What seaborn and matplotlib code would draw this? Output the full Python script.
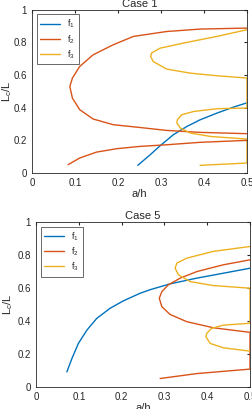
import numpy as np
import pandas as pd
import seaborn as sns
from matplotlib import pyplot as plt

# Case 1 curves (a/h, Lc/L)
c1_f1_x = [0.246, 0.275, 0.298, 0.329, 0.36, 0.391, 0.43, 0.469, 0.50]
c1_f1_y = [0.047, 0.112, 0.167, 0.235, 0.285, 0.326, 0.367, 0.404, 0.43]

c1_f2a_x = [0.50, 0.391, 0.313, 0.236, 0.189, 0.142, 0.111, 0.094, 0.088,
            0.094, 0.111, 0.142, 0.189, 0.251, 0.313, 0.391, 0.50]
c1_f2a_y = [0.888, 0.882, 0.867, 0.837, 0.786, 0.724, 0.653, 0.582, 0.53,
            0.459, 0.388, 0.331, 0.296, 0.279, 0.261, 0.249, 0.241]
c1_f2b_x = [0.084, 0.111, 0.150, 0.197, 0.251, 0.313, 0.391, 0.50]
c1_f2b_y = [0.051, 0.092, 0.128, 0.149, 0.163, 0.173, 0.188, 0.20]

c1_f3_x = [0.391, 0.50, 0.50, 0.415, 0.368, 0.345, 0.337, 0.338, 0.348, 0.376, 0.43, 0.50, 0.50,
           0.43, 0.368, 0.313, 0.282, 0.276, 0.278, 0.298, 0.352, 0.43, 0.50]
c1_f3_y = [0.047, 0.061, 0.208, 0.224, 0.245, 0.276, 0.306, 0.326, 0.357, 0.377, 0.394, 0.398, 0.582,
           0.596, 0.612, 0.637, 0.683, 0.714, 0.735, 0.765, 0.796, 0.837, 0.878]

# Case 5 curves
c5_f1_x = [0.072, 0.084, 0.099, 0.119, 0.142, 0.173, 0.204, 0.243, 0.267, 0.313, 0.376, 0.438, 0.50]
c5_f1_y = [0.091, 0.173, 0.264, 0.345, 0.416, 0.477, 0.522, 0.568, 0.59, 0.625, 0.66, 0.69, 0.72]

c5_f2_x = [0.29, 0.376, 0.50, 0.50, 0.414, 0.352, 0.313, 0.294, 0.288, 0.294, 0.309, 0.337, 0.376, 0.438, 0.50]
c5_f2_y = [0.051, 0.081, 0.108, 0.331, 0.359, 0.396, 0.44, 0.487, 0.538, 0.578, 0.619, 0.66, 0.70, 0.741, 0.771]

c5_f3_x = [0.50, 0.438, 0.407, 0.397, 0.399, 0.41, 0.438, 0.50, 0.50,
           0.414, 0.36, 0.333, 0.325, 0.329, 0.352, 0.414, 0.50]
c5_f3_y = [0.217, 0.237, 0.264, 0.304, 0.325, 0.355, 0.375, 0.386, 0.599,
           0.615, 0.639, 0.68, 0.72, 0.751, 0.781, 0.822, 0.852]

blue, red, yel = "#0072BD", "#D95319", "#EDB120"
xticks = [0, 0.1, 0.2, 0.3, 0.4, 0.5]
yticks = [0, 0.2, 0.4, 0.6, 0.8, 1]


def draw(ax, segs, title, ylab_x):
    for x, y, c, lab in segs:
        sns.lineplot(x=x, y=y, sort=False, estimator=None, color=c, lw=1.0, label=lab, ax=ax)
    ax.set_xlim(0, 0.5)
    ax.set_ylim(0, 1)
    ax.set_xticks(xticks)
    ax.set_xticklabels(["0", "0.1", "0.2", "0.3", "0.4", "0.5"])
    ax.set_yticks(yticks)
    ax.set_yticklabels(["0", "0.2", "0.4", "0.6", "0.8", "1"])
    ax.tick_params(direction="in", length=2.5, labelsize=7, colors="#262626", top=True, right=True)
    for s in ax.spines.values():
        s.set_visible(True)
        s.set_color("#262626")
        s.set_linewidth(0.6)
    ax.set_title(title, fontsize=8, pad=2)
    ax.set_xlabel("a/h", fontsize=8, labelpad=1)
    ax.set_ylabel("L$_c$/L", fontsize=8)
    ax.yaxis.set_label_coords(ylab_x, 0.5)
    leg = ax.legend(loc="upper left", fontsize=6.5, frameon=True, fancybox=False,
                    handlelength=2.2, borderpad=0.4, labelspacing=0.3)
    leg.get_frame().set_edgecolor("#262626")
    leg.get_frame().set_linewidth(0.6)


def main():
    sns.set_style("white")
    plt.rcParams["font.family"] = ["Liberation Sans", "DejaVu Sans"]
    plt.rcParams["mathtext.fontset"] = "custom"
    plt.rcParams["mathtext.rm"] = "Liberation Sans"
    plt.rcParams["mathtext.it"] = "Liberation Sans"

    fig = plt.figure(figsize=(2.52, 4.09), dpi=100)
    ax1 = fig.add_axes([0.127, 0.577, 0.853, 0.399])
    ax2 = fig.add_axes([0.143, 0.054, 0.849, 0.403])

    draw(ax1, [(c1_f1_x, c1_f1_y, blue, "f$_1$"),
               (c1_f2a_x, c1_f2a_y, red, "f$_2$"),
               (c1_f3_x, c1_f3_y, yel, "f$_3$"),
               (c1_f2b_x, c1_f2b_y, red, None)], "Case 1", -0.082)
    draw(ax2, [(c5_f1_x, c5_f1_y, blue, "f$_1$"),
               (c5_f2_x, c5_f2_y, red, "f$_2$"),
               (c5_f3_x, c5_f3_y, yel, "f$_3$")], "Case 5", -0.1)

    fig.savefig("out.png", dpi=100)


if __name__ == "__main__":
    main()
